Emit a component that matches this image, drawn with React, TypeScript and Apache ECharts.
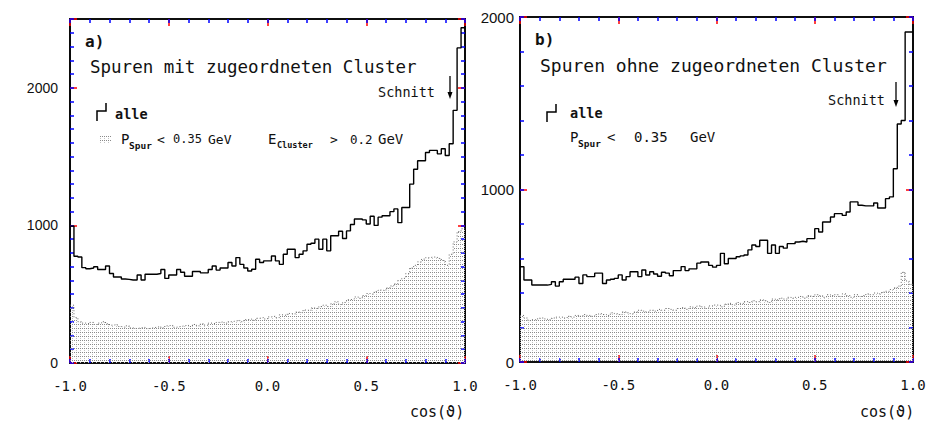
import React, { useEffect, useRef } from 'react';
import * as echarts from 'echarts';

// cos(theta) histograms, 100 bins from -1.0 to 1.0
const leftAlle = [
  995, 776, 770, 693, 685, 690, 700, 680, 680, 705,
  650, 625, 625, 610, 608, 603, 603, 640, 603, 645,
  645, 645, 650, 680, 615, 640, 640, 680, 660, 630,
  630, 665, 665, 655, 655, 680, 705, 675, 690, 690,
  730, 705, 766, 717, 690, 669, 681, 754, 730, 742,
  742, 778, 742, 717, 790, 827, 827, 766, 790, 815,
  863, 870, 900, 827, 900, 815, 925, 925, 958, 905,
  960, 1007, 1047, 1047, 1040, 1010, 1066, 1000, 1060, 1070,
  1070, 1100, 1120, 1020, 1130, 1130, 1300, 1408, 1470, 1470,
  1530, 1545, 1545, 1520, 1557, 1508, 1593, 1836, 2290, 2436,
];
const leftCut = [
  420, 330, 300, 290, 285, 295, 280, 290, 300, 285,
  275, 280, 265, 260, 270, 255, 250, 255, 260, 250,
  255, 260, 265, 255, 270, 275, 260, 265, 270, 275,
  265, 280, 270, 285, 275, 290, 285, 295, 300, 290,
  300, 305, 310, 300, 315, 320, 310, 325, 330, 320,
  335, 340, 330, 350, 345, 360, 355, 370, 365, 385,
  380, 400, 395, 410, 420, 410, 430, 445, 425, 440,
  460, 465, 480, 470, 490, 505, 500, 520, 530, 525,
  545, 560, 575, 600, 615, 650, 690, 710, 735, 755,
  765, 770, 770, 760, 745, 710, 790, 880, 955, 975,
];
const rightAlle = [
  552, 475, 475, 446, 446, 446, 446, 450, 465, 440,
  465, 480, 480, 480, 492, 455, 505, 495, 495, 515,
  515, 455, 475, 480, 485, 505, 475, 495, 523, 523,
  495, 533, 504, 523, 510, 497, 520, 515, 500, 530,
  530, 553, 530, 540, 540, 573, 580, 580, 560, 550,
  560, 630, 570, 600, 600, 610, 615, 620, 650, 678,
  670, 706, 706, 630, 678, 630, 670, 660, 686, 686,
  696, 700, 696, 715, 715, 773, 754, 812, 812, 841,
  860, 860, 850, 870, 928, 928, 909, 905, 905, 905,
  922, 893, 893, 947, 957, 1120, 1380, 1400, 1913, 1913,
];
const rightCut = [
  270, 255, 240, 245, 250, 255, 250, 245, 255, 260,
  260, 255, 265, 260, 270, 265, 275, 270, 265, 275,
  280, 275, 270, 285, 280, 275, 290, 285, 280, 290,
  300, 295, 290, 300, 295, 305, 300, 310, 305, 300,
  310, 315, 305, 320, 315, 325, 320, 310, 325, 330,
  330, 320, 335, 340, 330, 345, 340, 350, 345, 355,
  350, 360, 355, 345, 365, 360, 370, 365, 375, 370,
  375, 380, 370, 385, 380, 390, 385, 375, 390, 385,
  390, 380, 395, 385, 375, 390, 380, 385, 395, 390,
  400, 395, 405, 410, 420, 430, 440, 520, 470, 450,
];
const xMajorTicks = [-1.0, -0.5, 0.0, 0.5, 1.0];
const leftYMax = 2500;
const rightYMax = 2000;

const MONO = '"DejaVu Sans Mono"';

function toSteps(vals: number[]) {
  const n = vals.length;
  const w = 2 / n;
  const pts = vals.map((v, i) => [-1 + i * w, v]);
  pts.push([1, vals[n - 1]]);
  return pts;
}

function makePattern() {
  const c = document.createElement('canvas');
  c.width = 4;
  c.height = 4;
  const ctx = c.getContext('2d')!;
  ctx.fillStyle = '#8a8a8a';
  ctx.fillRect(0, 0, 1, 1);
  ctx.fillRect(2, 0, 1, 1);
  ctx.fillStyle = '#c4c4c4';
  ctx.fillRect(0, 2, 1, 1);
  return { image: c.toDataURL(), repeat: 'repeat', imageWidth: 4, imageHeight: 4 };
}

function xAxes(gridIndex: number) {
  const mk = (position: string, interval: number, length: number, labels: boolean) => ({
    type: 'value', gridIndex, position, interval,
    min: xMajorTicks[0], max: xMajorTicks[xMajorTicks.length - 1],
    splitLine: { show: false },
    axisLine: { show: true, onZero: false, lineStyle: { color: '#000', width: 1.6 } },
    axisTick: { show: true, inside: true, length, lineStyle: { color: length > 5 ? 'red' : 'blue', width: 1.5 } },
    axisLabel: labels ? {
      show: true, margin: 16, fontFamily: MONO, fontSize: 14, color: '#111',
      showMinLabel: true, showMaxLabel: true,
      formatter: (v: number) => Number(v).toFixed(1),
    } : { show: false },
  });
  return [mk('bottom', 0.5, 7, true), mk('bottom', 0.1, 4, false), mk('top', 0.5, 7, false), mk('top', 0.1, 4, false)];
}

function yAxes(gridIndex: number, max: number, minor: number, margin: number, fontSize: number) {
  const mk = (position: string, interval: number, length: number, labels: boolean) => ({
    type: 'value', gridIndex, position, interval, min: 0, max,
    splitLine: { show: false },
    axisLine: { show: true, onZero: false, lineStyle: { color: '#000', width: 1.6 } },
    axisTick: { show: true, inside: true, length, lineStyle: { color: length > 5 ? 'red' : 'blue', width: 1.5 } },
    axisLabel: labels ? {
      show: true, margin, fontFamily: '"Liberation Sans"', fontSize, color: '#111',
      formatter: (v: number) => (v % 1000 === 0 ? String(v) : ''),
    } : { show: false },
  });
  return [mk('left', 1000, 7, true), mk('left', minor, 4, false), mk('right', 1000, 7, false), mk('right', minor, 4, false)];
}

function txt(x: number, y: number, text: string, size: number, bold = false) {
  const font = `${bold ? 'bold ' : ''}${size}px ${MONO}`;
  return {
    type: 'text', x, y, silent: true,
    style: { text, fill: '#111', font, align: 'left', verticalAlign: 'middle', textAlign: 'left', textVerticalAlign: 'middle' },
  };
}

function arrow(x: number, y1: number, y2: number) {
  return [
    { type: 'line', silent: true, shape: { x1: x, y1, x2: x, y2: y2 - 4 }, style: { stroke: '#000', lineWidth: 1.3 } },
    { type: 'polygon', silent: true, shape: { points: [[x - 2.5, y2 - 7], [x + 2.5, y2 - 7], [x, y2]] }, style: { fill: '#000' } },
  ];
}

function stepGlyph(x: number, y: number) {
  return {
    type: 'polyline', silent: true,
    shape: { points: [[x, y + 18], [x, y + 8], [x + 9, y + 8], [x + 9, y]] },
    style: { stroke: '#000', lineWidth: 1.5, fill: null },
  };
}

export default function App() {
  const ref = useRef<HTMLDivElement>(null);
  useEffect(() => {
    if (!ref.current) return;
    const chart = echarts.init(ref.current, undefined, { renderer: 'svg' });
    const pattern = makePattern();
    const histLine = { color: '#000', width: 1.4 };
    const cutLine = { color: '#666', width: 1, type: [1, 2] };

    const graphic: any[] = [
      txt(85, 41, 'a)', 16, true),
      txt(90, 67, 'Spuren mit zugeordneten Cluster', 17.5),
      txt(378, 92, 'Schnitt', 13.5),
      ...arrow(450, 76, 99),
      stepGlyph(97, 103),
      txt(115, 114, 'alle', 13.5, true),
      { type: 'rect', silent: true, shape: { x: 100, y: 135, width: 12, height: 8 }, style: { fill: pattern } },
      txt(121, 139, 'P', 14),
      txt(129, 145, 'Spur', 9.5, true),
      txt(157, 139, '<', 13),
      txt(173, 139, '0.35', 12),
      txt(208, 139, 'GeV', 13),
      txt(268, 139, 'E', 14),
      txt(277, 145, 'Cluster', 8.5, true),
      txt(330, 139, '>', 13),
      txt(350, 139, '0.2', 12.5),
      txt(378, 139, 'GeV', 14),
      txt(410, 412, 'cos(ϑ)', 15),
      txt(535, 39, 'b)', 16, true),
      txt(540, 65, 'Spuren ohne zugeordneten Cluster', 18),
      txt(828, 100, 'Schnitt', 13.5),
      ...arrow(896, 82, 107),
      stepGlyph(547, 104),
      txt(570, 113, 'alle', 13.5, true),
      txt(570, 137, 'P', 14),
      txt(578, 143, 'Spur', 9.5, true),
      txt(607, 137, '<', 14),
      txt(634, 137, '0.35', 14),
      txt(690, 137, 'GeV', 14),
      txt(860, 412, 'cos(ϑ)', 15),
    ];

    chart.setOption({
      animation: false,
      backgroundColor: '#fff',
      grid: [
        { left: 70, top: 19, width: 395, height: 344 },
        { left: 520, top: 17, width: 393, height: 345 },
      ],
      xAxis: [...xAxes(0), ...xAxes(1)],
      yAxis: [...yAxes(0, leftYMax, 100, 12, 14), ...yAxes(1, rightYMax, 200, 6, 15)],
      series: [
        { type: 'line', xAxisIndex: 0, yAxisIndex: 0, step: 'end', symbol: 'none', data: toSteps(leftCut), lineStyle: cutLine, areaStyle: { color: pattern, opacity: 1 }, silent: true },
        { type: 'line', xAxisIndex: 0, yAxisIndex: 0, step: 'end', symbol: 'none', data: toSteps(leftAlle), lineStyle: histLine, silent: true },
        { type: 'line', xAxisIndex: 4, yAxisIndex: 4, step: 'end', symbol: 'none', data: toSteps(rightCut), lineStyle: cutLine, areaStyle: { color: pattern, opacity: 1 }, silent: true },
        { type: 'line', xAxisIndex: 4, yAxisIndex: 4, step: 'end', symbol: 'none', data: toSteps(rightAlle), lineStyle: histLine, silent: true },
      ],
      graphic,
    });
    return () => chart.dispose();
  }, []);
  return <div ref={ref} style={{ position: 'absolute', left: 0, top: 0, width: 938, height: 423, background: '#fff' }} />;
}
